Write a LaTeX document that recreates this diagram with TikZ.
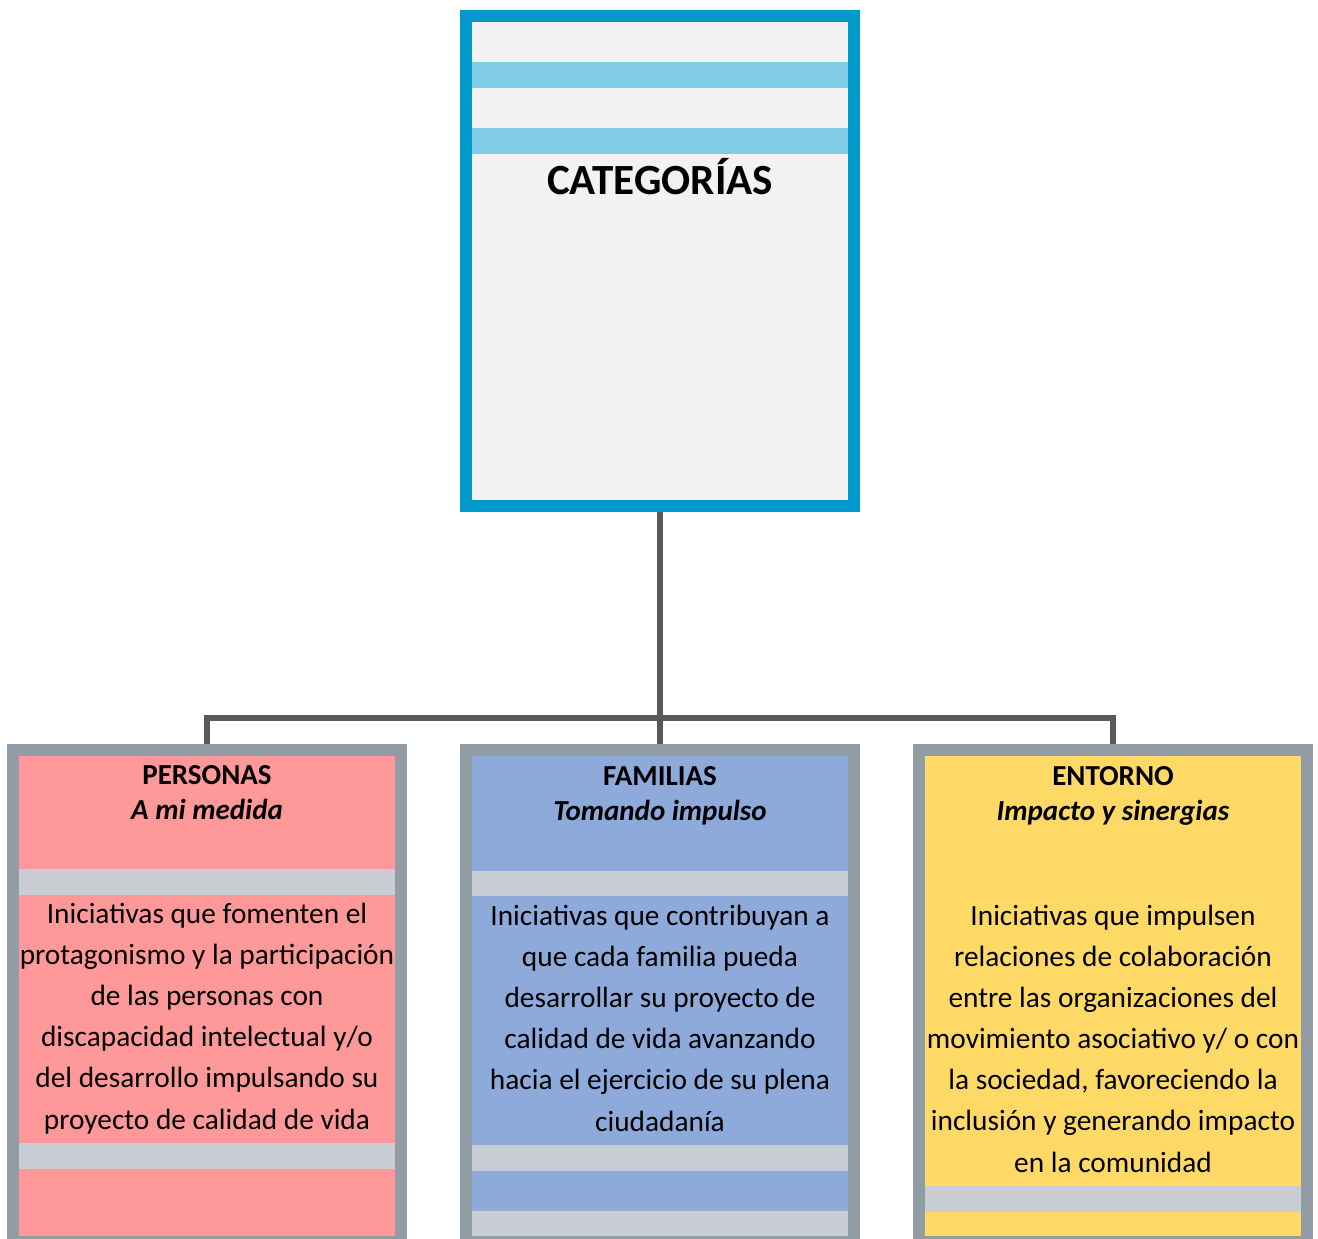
\documentclass[tikz,border=0pt]{standalone}
\usepackage{fontspec}
\setmainfont{Carlito}
\usetikzlibrary{positioning}

\definecolor{catblue}{HTML}{0099CC}
\definecolor{catfill}{HTML}{F2F2F2}
\definecolor{catstripe}{HTML}{7FCCE4}
\definecolor{edgegrey}{HTML}{929CA5}
\definecolor{bandgrey}{HTML}{C9CDD4}
\definecolor{perpink}{HTML}{FF9999}
\definecolor{famblue}{HTML}{8EAADB}
\definecolor{entyellow}{HTML}{FFD966}
\definecolor{linkgrey}{HTML}{595959}

\tikzset{
  catbox/.style = {draw=catblue, fill=catfill, line width=6.8pt, minimum width=7.76cm, minimum height=9.8cm, inner sep=0pt},
  groupbox/.style = {draw=edgegrey, line width=6.8pt, minimum width=7.76cm, minimum height=9.84cm, inner sep=0pt},
  heading/.style = {anchor=base, align=center, inner sep=0pt, font=\fontsize{16.5}{19.8}\selectfont\bfseries},
  blurb/.style = {anchor=base, align=center, inner sep=0pt, font=\fontsize{16.7}{23.4}\selectfont},
  link/.style = {draw=linkgrey, line width=3.7pt}
}

\begin{document}
\begin{tikzpicture}[x=0.02cm, y=-0.02cm, node distance=9.06cm]
      \useasboundingbox (0,0) rectangle (1318,1239);
      % place nodes
      \node (cat) [catbox] at (660,261) {};
      \node (familias) [groupbox, fill=famblue, below of = cat, node distance=14.7cm] {};
      \node (personas) [groupbox, fill=perpink, left of = familias] {};
      \node (entorno) [groupbox, fill=entyellow, right of = familias] {};

      % stripes
      \fill [catstripe] (472,62) rectangle (848,88);
      \fill [catstripe] (472,128) rectangle (848,154);

      \fill [bandgrey] (19,869) rectangle (395,895);
      \fill [bandgrey] (19,1143) rectangle (395,1169);

      \fill [bandgrey] (472,871) rectangle (848,896);
      \fill [bandgrey] (472,1145) rectangle (848,1171);
      \fill [bandgrey] (472,1211) rectangle (848,1236);

      \fill [bandgrey] (925,1186) rectangle (1301,1212);

      % texts (base = last line)
      \node (cattitle) [anchor=base, font=\fontsize{24.5}{28}\selectfont\bfseries] at (660,195) {CATEGORÍAS};

      \node (pertitle) [heading] at (207,819) {PERSONAS\\\textit{A mi medida}};
      \node (famtitle) [heading] at (660,820) {FAMILIAS\\\textit{Tomando impulso}};
      \node (enttitle) [heading] at (1113,820) {ENTORNO\\\textit{Impacto y sinergias}};

      \node (perbody) [blurb] at (207,1129) {Iniciativas que fomenten el\\protagonismo y la participación\\de las personas con\\discapacidad intelectual y/o\\del desarrollo impulsando su\\proyecto de calidad de vida};
      \node (fambody) [blurb] at (660,1131) {Iniciativas que contribuyan a\\que cada familia pueda\\desarrollar su proyecto de\\calidad de vida avanzando\\hacia el ejercicio de su plena\\ciudadanía};
      \node (entbody) [blurb] at (1113,1172) {Iniciativas que impulsen\\relaciones de colaboración\\entre las organizaciones del\\movimiento asociativo y/ o con\\la sociedad, favoreciendo la\\inclusión y generando impacto\\en la comunidad};

      % draw edges
      \coordinate (hub) at (660,718);
      \draw [link] (cat.south) -- (hub);
      \draw [link] (personas.north) |- (hub) -| (entorno.north);
      \draw [link] (hub) -- (familias.north);
    \end{tikzpicture}
\end{document}
